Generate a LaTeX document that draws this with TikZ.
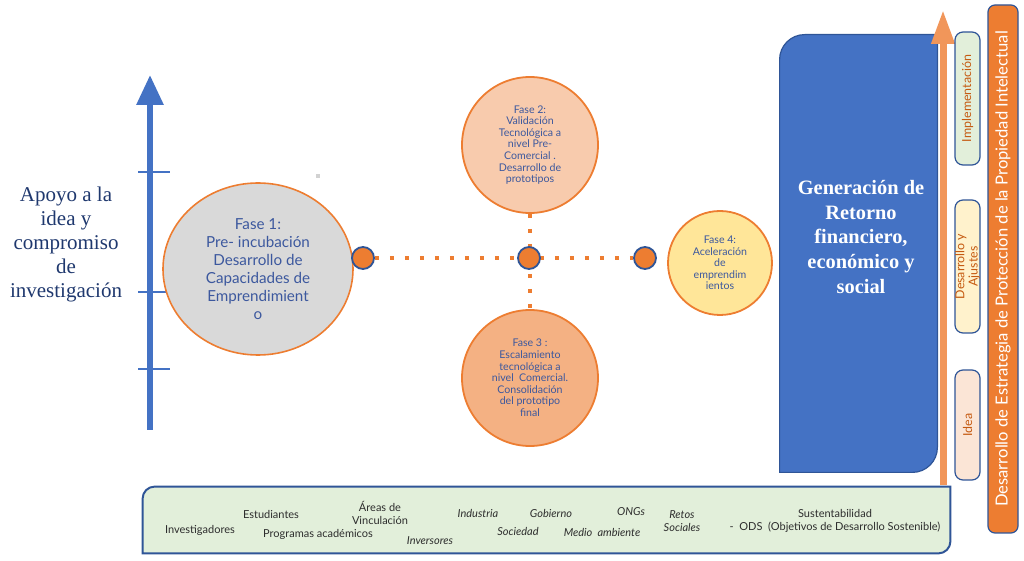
\documentclass[tikz,border=0pt]{standalone}
\usepackage{fontspec}
\setmainfont{Lato}
\newfontfamily\titleface{Liberation Serif}
\usetikzlibrary{positioning,shapes,arrows.meta,backgrounds}
\definecolor{axisblue}{RGB}{68,114,196}
\definecolor{edgeblue}{RGB}{47,85,151}
\definecolor{navytext}{RGB}{31,56,110}
\definecolor{fasetext}{RGB}{60,88,158}
\definecolor{faseorange}{RGB}{237,125,49}
\definecolor{grayfill}{RGB}{217,217,217}
\definecolor{peach}{RGB}{248,203,173}
\definecolor{apricot}{RGB}{244,177,131}
\definecolor{butter}{RGB}{255,230,153}
\definecolor{lightorange}{RGB}{241,150,90}
\definecolor{mintfill}{RGB}{226,239,218}
\definecolor{creamfill}{RGB}{255,242,204}
\definecolor{blushfill}{RGB}{251,229,214}
\definecolor{stagetext}{RGB}{197,90,17}
\definecolor{actortext}{RGB}{45,45,45}

\begin{document}
\begin{tikzpicture}[x=0.5pt, y=-0.5pt,
  every node/.append style={align=center, inner sep=0pt},
  fase/.style={circle, draw=faseorange, line width=0.9pt, text=fasetext, font=\fontsize{5.3}{5.8}\selectfont},
  hub/.style={circle, fill=faseorange, draw=edgeblue, line width=0.9pt, minimum size=11pt},
  dotline/.style={draw=faseorange, line width=2pt, dash pattern=on 2pt off 5.5pt},
  stage/.style={rotate=90, rounded corners=4pt, draw=edgeblue, line width=0.6pt, minimum height=12.5pt, text=stagetext, font=\fontsize{6.2}{6.6}\selectfont},
  actor/.style={text=actortext, font=\fontsize{5.5}{6.5}\selectfont},
  actorit/.style={text=actortext, font=\fontsize{5.5}{6.5}\selectfont\itshape}]
  \useasboundingbox (0,0) rectangle (1024,561);

  % eje de apoyo
  \draw[axisblue, line width=3pt, -{Triangle[width=13pt,length=15pt]}] (150,430) -- (150,75);
  \foreach \ty in {172,292,369}
    \draw[axisblue, line width=0.6pt] (138,\ty) -- (170,\ty);
  \node [text=navytext, font=\titleface\fontsize{10.5}{12}\selectfont] at (66,244) (apoyo) {Apoyo a la\\idea y\\compromiso\\de\\investigación};
  \fill[gray!35] (316,174) rectangle (320,178);

  % fases
  \node [ellipse, fill=grayfill, draw=faseorange, line width=0.8pt, minimum width=95pt, minimum height=86pt, text=fasetext, font=\fontsize{7.6}{9}\selectfont] at (258,269) (f1) {Fase 1:\\Pre- incubación\\Desarrollo de\\Capacidades de\\Emprendimient\\o};
  \node [fase, fill=peach, minimum size=68pt] at (530,145) (f2) {Fase 2:\\Validación\\Tecnológica a\\nivel Pre-\\Comercial .\\Desarrollo de\\prototipos};
  \node [fase, fill=apricot, minimum size=68pt] at (530,378) (f3) {Fase 3 :\\Escalamiento\\tecnológica a\\nivel\ \ Comercial.\\Consolidación\\del prototipo\\final};
  \node [fase, fill=butter, minimum size=52pt] at (720,263) (f4) {Fase 4:\\Aceleración\\de\\emprendim\\ientos};
  \node [hub] at (363,258) (d1) {};
  \node [hub] at (529,258) (d2) {};
  \node [hub] at (645,258) (d3) {};

  % retorno
  \node [minimum width=78.5pt, minimum height=218.5pt] at (858.5,253.5) (gen) {};
  \node [text=white, font=\titleface\bfseries\fontsize{10.2}{12.3}\selectfont] at (861,237) (gentxt) {Generación de\\Retorno\\financiero,\\económico y\\social};
  \draw[lightorange, line width=3.5pt, -{Triangle[width=11pt,length=17pt]}] (943,485) -- (943,10);
  \node [stage, fill=mintfill, minimum width=66.5pt] at (967.5,98.5) (impl) {Implementación};
  \node [stage, fill=creamfill, minimum width=66.5pt] at (967.5,266.5) (ajus) {Desarrollo y\\Ajustes};
  \node [stage, fill=blushfill, minimum width=55pt] at (967.5,425) (idea) {Idea};
  \node [rotate=90, fill=faseorange, draw=edgeblue, line width=0.6pt, rounded corners=3.5pt, minimum width=264pt, minimum height=15pt, text=white, font=\fontsize{8.3}{9}\selectfont] at (1003,269) (pi) {Desarrollo de Estrategia de Protección de la Propiedad Intelectual};

  % actores
  \node [minimum width=403.5pt, minimum height=33pt] at (546.5,520) (actores) {};
  \node [actor] at (200,530) (inv) {Investigadores};
  \node [actor] at (271,514) (est) {Estudiantes};
  \node [actor] at (380,513) (areas) {Áreas de\\Vinculación};
  \node [actor] at (318,534) (prog) {Programas académicos};
  \node [actorit] at (430,541) (invs) {Inversores};
  \node [actorit] at (478,513) (ind) {Industria};
  \node [actorit] at (518,531) (soc) {Sociedad};
  \node [actorit] at (551,513) (gob) {Gobierno};
  \node [actorit] at (602,532) (medio) {Medio\ \ ambiente};
  \node [actorit] at (631,512) (ong) {ONGs};
  \node [actorit] at (682,521) (retos) {Retos\\Sociales};
  \node [actor] at (835,521) (ods) {Sustentabilidad\\- \ ODS\ \ (Objetivos de Desarrollo Sostenible)};

  \begin{scope}[on background layer]
    \draw[dotline] (d1) -- (d3);
    \draw[dotline] (f2) -- (f3);
    \filldraw[fill=axisblue, draw=edgeblue, line width=0.6pt] (gen.south west) -- ([yshift=-12.5pt]gen.north west) arc[start angle=180, end angle=90, radius=12.5pt] -- (gen.north east) -- ([yshift=12.5pt]gen.south east) arc[start angle=0, end angle=-90, radius=12.5pt] -- cycle;
    \filldraw[fill=mintfill, draw=edgeblue, line width=1pt] (actores.south west) -- ([yshift=-6pt]actores.north west) arc[start angle=180, end angle=90, radius=6pt] -- (actores.north east) -- ([yshift=6pt]actores.south east) arc[start angle=0, end angle=-90, radius=6pt] -- cycle;
  \end{scope}
\end{tikzpicture}
\end{document}
